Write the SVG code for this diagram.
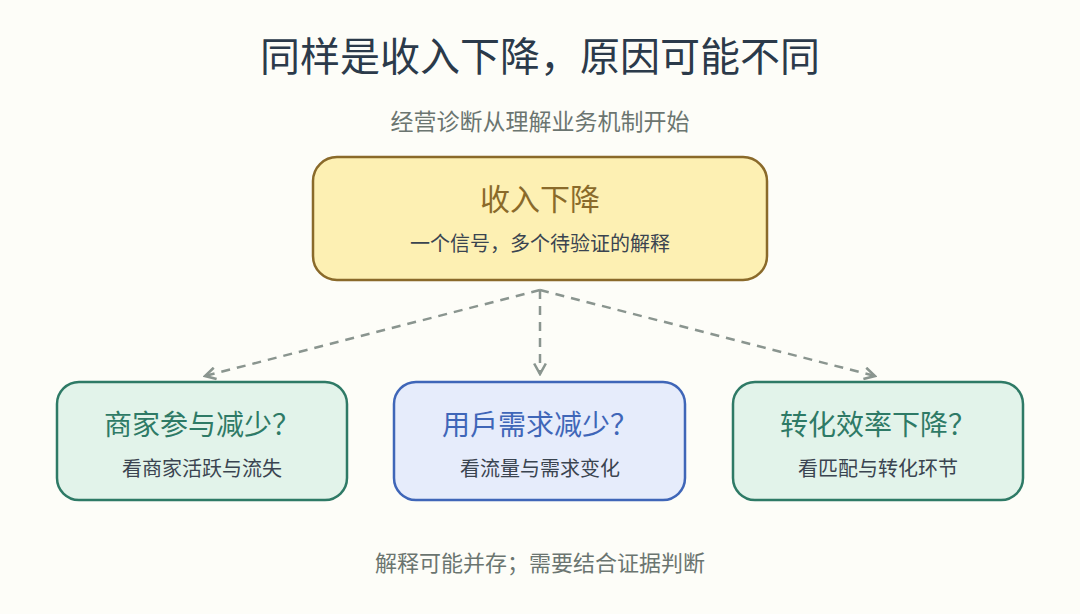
<svg xmlns="http://www.w3.org/2000/svg" width="1080" height="614" viewBox="0 0 1080 614">
<defs>
<style>
text{font-family:"Noto Sans CJK SC","Noto Sans",sans-serif;text-anchor:middle}
.t{font-size:28px}
.s{font-size:20px;fill:#3a4450}
.g rect{fill:#e2f3ea;stroke:#2e7a66;stroke-width:2.5}
.g .t{fill:#2e7a66}
.c{fill:none;stroke:#8a958f;stroke-width:2.5;stroke-dasharray:9 7}
</style>
<marker id="a" viewBox="0 0 12 12" refX="10" refY="6" markerWidth="14" markerHeight="14" markerUnits="userSpaceOnUse" orient="auto"><path d="M1 1L10 6L1 11" fill="none" stroke="#8a958f" stroke-width="2.2"/></marker>
</defs>
<rect width="1080" height="614" fill="#fdfdf8"/>
<text x="540" y="71" font-size="40" fill="#2b3a4a">同样是收入下降，原因可能不同</text>
<text x="540" y="130" font-size="23" fill="#6b7570">经营诊断从理解业务机制开始</text>
<g id="connectors">
<path class="c" d="M540 290L205 376" marker-end="url(#a)"/>
<path class="c" d="M540 290L540 374" marker-end="url(#a)"/>
<path class="c" d="M540 290L875 376" marker-end="url(#a)"/>
</g>
<g id="top"><rect x="313" y="157" width="454" height="123" rx="24" fill="#fdf0b3" stroke="#8a6a2a" stroke-width="2.5"/>
<text x="540" y="210" font-size="30" fill="#8a6a2a">收入下降</text>
<text class="s" x="540" y="251">一个信号，多个待验证的解释</text></g>
<g id="n1" class="g"><rect x="57" y="382" width="290" height="118" rx="22"/>
<text class="t" x="202" y="435">商家参与减少？</text><text class="s" x="202" y="476">看商家活跃与流失</text></g>
<g id="n2"><rect x="394" y="382" width="291" height="118" rx="22" fill="#e6ecfb" stroke="#3f66b8" stroke-width="2.5"/>
<text class="t" x="540" y="435" fill="#3f66b8">用戶需求减少？</text><text class="s" x="540" y="476">看流量与需求变化</text></g>
<g id="n3" class="g"><rect x="733" y="382" width="290" height="118" rx="22"/>
<text class="t" x="878" y="435">转化效率下降？</text><text class="s" x="878" y="476">看匹配与转化环节</text></g>
<text x="540" y="571" font-size="22" fill="#6b7570">解释可能并存；需要结合证据判断</text>
</svg>
